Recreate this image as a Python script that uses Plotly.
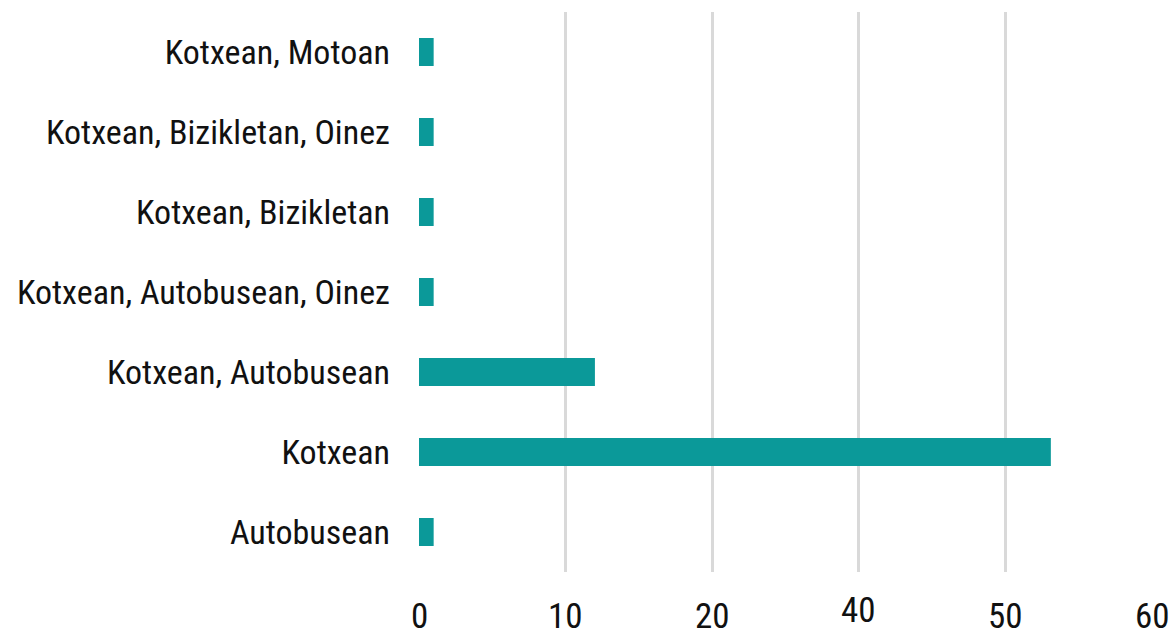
import plotly.graph_objects as go

categories = ["Autobusean", "Kotxean", "Kotxean, Autobusean", "Kotxean, Autobusean, Oinez",
              "Kotxean, Bizikletan", "Kotxean, Bizikletan, Oinez", "Kotxean, Motoan"]
values = [1, 43.1, 12, 1, 1, 1, 1]
tick_vals = [0, 10, 20, 30, 40, 50]
tick_text = ["0", "10", "20", "40", "50", "60"]
tick_shift = [0, 0, 0, 6, 0, 0]

FONT = "Liberation Sans Narrow, Roboto Condensed, Arial Narrow, sans-serif"

fig = go.Figure(go.Bar(
    x=values, y=categories, orientation="h",
    marker=dict(color="#0b9999", line=dict(width=0)),
    width=0.35,
))

for v, t, s in zip(tick_vals, tick_text, tick_shift):
    fig.add_annotation(x=v, y=0, xref="x", yref="paper", text=t, showarrow=False,
                       yanchor="middle", xanchor="center", yshift=-44 + s,
                       height=26, valign="middle",
                       font=dict(family=FONT, size=35, color="#111111"))

fig.update_layout(
    width=1170, height=631,
    margin=dict(l=418.5, r=18, t=12, b=59, autoexpand=False),
    paper_bgcolor="white", plot_bgcolor="white",
    showlegend=False,
    xaxis=dict(range=[0, 50], tickvals=tick_vals, showticklabels=False,
               showgrid=True, gridcolor="#d9d9d9", gridwidth=2.5,
               zeroline=False, showline=False, fixedrange=True),
    yaxis=dict(categoryorder="array", categoryarray=categories,
               tickfont=dict(family=FONT, size=34, color="#111111"),
               ticklabelstandoff=28, showgrid=False, zeroline=False, showline=False),
)

fig.write_html("out.html", config={"displayModeBar": False},
               post_script="document.body.style.margin='0px';")
